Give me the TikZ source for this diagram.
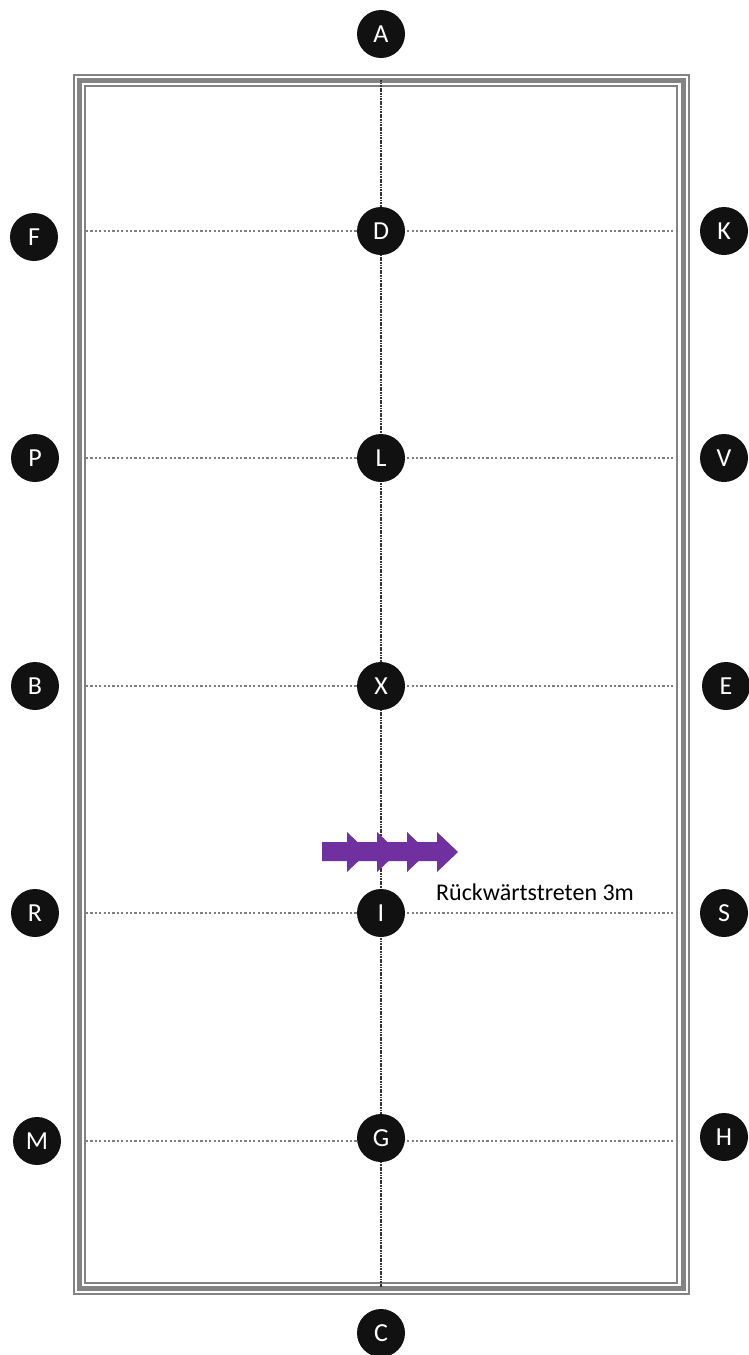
\documentclass[tikz,border=0pt]{standalone}
\usepackage{fontspec}
\setmainfont{Carlito}
\definecolor{bordergray}{HTML}{838383}
\definecolor{dotgray}{HTML}{7E7E7E}
\definecolor{centerline}{HTML}{333333}
\definecolor{arrowpurple}{HTML}{7030A0}
\definecolor{markfill}{HTML}{111111}
\begin{document}
\begin{tikzpicture}[x=1pt,y=-1pt,
  letter/.style={circle, fill=markfill, text=white, minimum size=48pt, inner sep=0pt,
    font=\fontsize{26}{26}\selectfont},
  gridline/.style={draw=dotgray, line width=2.4pt, dash pattern=on 2.2pt off 2.2pt},
  midline/.style={draw=centerline, line width=1.8pt, dash pattern=on 1.8pt off 0.8pt},
  bordline/.style={draw=bordergray}
]
\useasboundingbox (0,0) rectangle (748,1355);
% arena border (triple line)
\draw[bordline, line width=2.4pt] (74,75) rectangle (689,1294);
\draw[bordline, line width=5.5pt] (79.5,80.5) rectangle (683.3,1288.3);
\draw[bordline, line width=1.8pt] (85.2,85.8) rectangle (676.7,1282.6);
% coordinates on the border
\coordinate (top) at (381,80);
\coordinate (bot) at (381,1287);
\foreach \n/\y in {d/231, l/458, x/686, i/913, g/1141}{
  \coordinate (\n west) at (86,\y);
  \coordinate (\n east) at (676,\y);
}
% lines
\foreach \n in {d,l,x,i,g}{
  \draw[gridline] (\n west) -- (\n east);
}
\draw[midline] (top) -- (bot);
% letter markers
\node[letter] (A) at (381,34) {A};
\node[letter] (D) at (381,231) {D};
\node[letter] (L) at (381,458) {L};
\node[letter] (X) at (381,686) {X};
\node[letter] (I) at (381,913) {I};
\node[letter] (G) at (381,1138) {G};
\node[letter] (C) at (381,1333) {C};
\node[letter] (F) at (34,237) {F};
\node[letter] (P) at (35,458) {P};
\node[letter] (B) at (35,686) {B};
\node[letter] (R) at (35,913) {R};
\node[letter] (M) at (37,1141) {M};
\node[letter] (K) at (724,231) {K};
\node[letter] (V) at (724,458) {V};
\node[letter] (E) at (726,686) {E};
\node[letter] (S) at (724,913) {S};
\node[letter] (H) at (724,1137) {H};
% purple multi-head arrow
\fill[arrowpurple] (322,842) -- (347,842) -- (347,832) -- (368,852) -- (347,872) -- (347,861) -- (322,861) -- cycle;
\fill[arrowpurple] (347,842) -- (377,842) -- (377,832) -- (398,852) -- (377,872) -- (377,861) -- (347,861) -- cycle;
\fill[arrowpurple] (377,842) -- (407,842) -- (407,832) -- (428,852) -- (407,872) -- (407,861) -- (377,861) -- cycle;
\fill[arrowpurple] (407,842) -- (437,842) -- (437,832) -- (458,852) -- (437,872) -- (437,861) -- (407,861) -- cycle;
\node[anchor=west, inner sep=0pt, font=\fontsize{24}{24}\selectfont] (label) at (436,892) {Rückwärtstreten 3m};
\end{tikzpicture}
\end{document}
